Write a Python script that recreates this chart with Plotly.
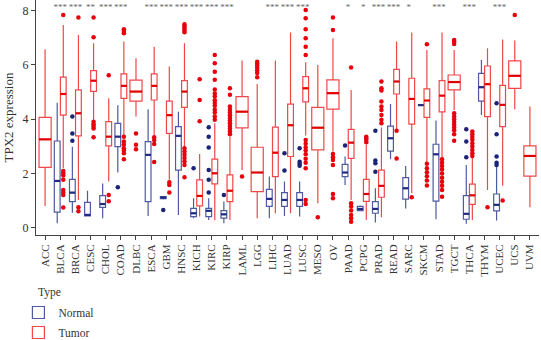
import plotly.graph_objects as go

cancers = ["ACC","BLCA","BRCA","CESC","CHOL","COAD","DLBC","ESCA","GBM","HNSC","KICH","KIRC","KIRP",
           "LAML","LGG","LIHC","LUAD","LUSC","MESO","OV","PAAD","PCPG","PRAD","READ","SARC","SKCM",
           "STAD","TGCT","THCA","THYM","UCEC","UCS","UVM"]

stars = ["","***","***","**","***","***","","***","***","***","***","***","***",
         "","","***","***","***","","","*","*","***","***","*","",
         "***","","***","","***","",""]

# Tumor: lower whisker, Q1, median, Q3, upper whisker
tumor_lo  = [0.81,2.20,1.03,3.98,1.71,3.42,4.10,3.42,1.77,2.99,0.42,0.29,0.29,2.13,0.36,0.54,0.54,3.40,0.91,2.81,1.03,0.29,0.39,3.61,1.28,2.38,2.56,4.34,0.29,1.40,1.55,4.37,0.76]
tumor_q1  = [2.23,4.15,3.39,5.03,3.02,4.77,4.67,4.71,3.48,4.44,0.81,1.62,0.97,3.68,1.34,1.89,2.63,4.64,2.87,4.37,2.56,0.98,1.13,4.93,3.82,4.07,4.27,5.08,0.87,4.10,3.73,5.14,1.91]
tumor_med = [3.26,4.93,4.22,5.42,3.36,5.23,5.02,5.23,4.15,5.02,1.18,2.01,1.37,4.28,2.04,2.77,3.78,5.14,3.69,4.96,3.14,1.25,1.55,5.39,4.75,4.69,4.87,5.37,1.20,5.29,4.53,5.60,2.65]
tumor_q3  = [4.07,5.55,5.08,5.79,3.91,5.67,5.44,5.67,4.67,5.42,1.77,2.53,1.95,4.83,2.97,3.71,4.56,5.57,4.44,5.45,3.63,1.79,2.13,5.84,5.51,5.12,5.42,5.63,1.61,5.96,5.25,6.15,3.02]
tumor_hi  = [6.58,7.47,7.10,6.80,4.77,6.86,6.25,6.67,5.94,6.80,2.72,3.85,3.36,6.16,5.30,6.16,7.19,6.10,6.00,6.98,5.08,3.06,3.70,6.86,7.19,6.55,7.19,6.55,3.48,6.61,6.94,6.90,4.47]

# Normal (None = no normal samples)
N = None
normal_lo  = [N,0.17,0.56,0.42,0.36,2.04,N,0.44,1.05,0.48,0.36,0.29,0.17,N,N,0.36,0.44,0.42,N,N,1.58,0.62,0.20,2.53,0.72,4.52,0.32,N,0.15,4.16,0.27,N,N]
normal_q1  = [N,0.58,0.97,0.44,0.76,2.99,N,0.97,1.08,2.13,0.42,0.42,0.36,N,N,0.79,0.79,0.79,N,N,1.89,0.64,0.54,2.83,1.06,4.52,0.99,N,0.32,4.67,0.63,N,N]
normal_med = [N,1.73,1.30,0.48,0.88,3.36,N,2.69,1.12,3.39,0.54,0.63,0.50,N,N,1.07,1.03,1.03,N,N,2.04,0.70,0.70,3.30,1.46,4.52,2.71,N,0.52,5.18,0.85,N,N]
normal_q3  = [N,3.20,1.79,0.94,1.19,3.85,N,3.18,1.15,3.73,0.72,0.72,0.64,N,N,1.42,1.30,1.30,N,N,2.34,0.79,0.97,3.75,1.85,4.52,3.08,N,1.19,5.69,1.25,N,N]
normal_hi  = [N,4.61,2.99,1.37,1.64,4.52,N,4.37,1.17,4.28,1.09,1.09,0.97,N,N,1.89,1.71,1.71,N,N,2.63,0.83,1.46,4.56,2.28,4.52,3.95,N,2.32,6.18,2.26,N,N]

normal_outliers = {
    "BRCA": [4.10,3.48,3.21], "COAD": [1.50], "GBM": [0.66], "KICH": [2.20],
    "KIRC": [3.71,3.36,2.96,2.13,1.77,1.30], "KIRP": [1.21], "LUAD": [2.75,2.11],
    "LUSC": [2.93,2.44,2.36,2.29], "PAAD": [3.03], "PRAD": [3.58,2.48,2.38,2.07],
    "THCA": [3.63,3.18,2.60], "UCEC": [4.59,3.45,2.63,2.40,2.32],
}
tumor_outliers = {
    "BLCA": [7.84,2.10,2.01,1.93,1.77,1.40,1.30,1.21,0.75],
    "BRCA": [7.75,0.76,0.61],
    "CESC": [7.75,7.02,3.91,3.82,3.73,3.66,3.34],
    "CHOL": [5.62,1.21,0.98],
    "COAD": [7.31,7.25,7.17,3.36,3.18,3.06,2.93,2.85,2.75,2.53],
    "DLBC": [3.48,3.06,2.90],
    "ESCA": [3.34,3.24,3.09,2.43],
    "GBM": [1.68,1.58,1.30],
    "HNSC": [7.50,7.42,7.35,7.27,7.20,2.93,2.81,2.69,2.57,2.45,2.32,1.87],
    "KICH": [5.47,4.71,3.93],
    "KIRC": [6.37,6.06,5.75,5.45,5.10,4.95,4.85,4.70,4.60,4.50,4.35,4.25,4.10,3.98],
    "KIRP": [5.14,4.90,4.47,4.35,4.25,4.15,4.05,3.95,3.85,3.75,3.65,3.55,3.45],
    "LAML": [1.89],
    "LGG": [6.12,6.05,5.98,5.90,5.80,5.70,5.55],
    "LUSC": [8.02,7.72,7.31,6.98,6.67,6.37,3.24,3.10,2.96,2.85,2.71,2.55,2.40,2.20,1.03,0.88],
    "MESO": [0.39],
    "OV": [7.75,7.29,2.72,2.60,2.50,2.32,1.25,1.09],
    "PAAD": [5.91,0.91,0.79,0.64,0.48,0.36,0.23],
    "PCPG": [3.36,3.30,3.24,3.15],
    "PRAD": [5.39,5.14,5.06,4.65,4.47,4.34,4.16,3.98,3.85],
    "READ": [3.58,2.56],
    "SARC": [1.13],
    "SKCM": [6.76,2.36,2.20,2.05,1.90,1.75,1.56],
    "STAD": [2.53,2.40,2.28,2.15,2.00,1.85,1.70,1.55,1.40,1.15],
    "TGCT": [6.92,6.85,6.77,4.22,4.10,4.00,3.90,3.80,3.70,3.60,3.45,3.21],
    "THCA": [3.55,3.45,3.35,3.25,3.12,3.00,2.87,2.75,2.65],
    "THYM": [0.76],
    "UCEC": [1.01],
    "UCS": [7.84],
}

SERIF = "Liberation Serif"
N_LINE, N_MED, N_PT = "#4f5aa0", "#1f2a80", "#1c2575"
T_LINE, T_MED, T_PT = "#f04848", "#e00000", "#e8000b"
DODGE = 0.2
PAIR_W, SINGLE_W = 0.38, 0.8
PX_PER_UNIT = 15.15

fig = go.Figure()

def pos(i, kind):
    has_n = normal_med[i] is not None
    if kind == "N":
        return i - DODGE
    return i + DODGE if has_n else i

idx_n = [i for i in range(len(cancers)) if normal_med[i] is not None]
idx_tp = [i for i in range(len(cancers)) if normal_med[i] is not None]
idx_ts = [i for i in range(len(cancers)) if normal_med[i] is None]

def add_box(idx, kind, name, width, showlegend):
    if kind == "N":
        lo, q1, md, q3, hi = normal_lo, normal_q1, normal_med, normal_q3, normal_hi
        lc = N_LINE
    else:
        lo, q1, md, q3, hi = tumor_lo, tumor_q1, tumor_med, tumor_q3, tumor_hi
        lc = T_LINE
    fig.add_trace(go.Box(
        x=[pos(i, kind) for i in idx],
        q1=[q1[i] for i in idx], median=[md[i] for i in idx], q3=[q3[i] for i in idx],
        lowerfence=[lo[i] for i in idx], upperfence=[hi[i] for i in idx],
        name=name, legendgroup=name, showlegend=showlegend, width=width,
        line=dict(color=lc, width=1.2), fillcolor="white", whiskerwidth=0,
        boxpoints=False, hoverinfo="skip"))

add_box(idx_n, "N", "Normal", PAIR_W, True)
add_box(idx_tp, "T", "Tumor", PAIR_W, True)
add_box(idx_ts, "T", "Tumor", SINGLE_W, False)

# thicker median lines (line-ew marker length = 1.4 * size)
for idx, kind, w, col in [(idx_n, "N", PAIR_W, N_MED), (idx_tp, "T", PAIR_W, T_MED), (idx_ts, "T", SINGLE_W, T_MED)]:
    md = normal_med if kind == "N" else tumor_med
    fig.add_trace(go.Scatter(
        x=[pos(i, kind) for i in idx], y=[md[i] for i in idx], mode="markers",
        marker=dict(symbol="line-ew", size=w * PX_PER_UNIT / 1.4, line=dict(color=col, width=2.2)),
        showlegend=False, hoverinfo="skip"))

# outliers
for outl, kind, col in [(normal_outliers, "N", N_PT), (tumor_outliers, "T", T_PT)]:
    xs, ys = [], []
    for c, vals in outl.items():
        i = cancers.index(c)
        for v in vals:
            xs.append(pos(i, kind)); ys.append(v)
    fig.add_trace(go.Scatter(x=xs, y=ys, mode="markers",
                             marker=dict(color=col, size=4.5, line=dict(width=0)),
                             showlegend=False, hoverinfo="skip"))

# significance
fig.add_trace(go.Scatter(x=list(range(len(cancers))), y=[8.12] * len(cancers), text=stars,
                         mode="text", textfont=dict(family=SERIF, size=9, color="#666666"),
                         showlegend=False, hoverinfo="skip"))

fig.update_layout(
    width=541, height=340, margin=dict(l=36, r=2, t=0, b=105, autoexpand=False),
    paper_bgcolor="white", plot_bgcolor="white", boxmode="overlay",
    font=dict(family=SERIF, color="#333333"),
    legend=dict(font=dict(family=SERIF, size=11.5, color="#333"),
                orientation="v", x=-0.035, xanchor="left", y=-0.268, yanchor="top",
                tracegroupgap=1, itemwidth=30, bgcolor="rgba(0,0,0,0)"),
    annotations=[dict(text="Type", xref="paper", yref="paper", x=0, y=-0.243, xanchor="left",
                      yanchor="middle", showarrow=False, font=dict(family=SERIF, size=11.5, color="#333"))],
    xaxis=dict(range=[-0.6, 32.6], tickmode="array", tickvals=list(range(len(cancers))), ticktext=cancers,
               tickangle=-90, ticks="outside", ticklen=4, tickcolor="#444", showline=True, linecolor="#444",
               linewidth=1, showgrid=False, zeroline=False, tickfont=dict(family=SERIF, size=11, color="#333")),
    yaxis=dict(range=[-0.26, 8.39], tickvals=[0, 2, 4, 6, 8], ticks="outside", ticklen=4, tickcolor="#444",
               showline=True, linecolor="#444", linewidth=1, showgrid=False, zeroline=False,
               tickfont=dict(family=SERIF, size=12, color="#333"),
               title=dict(text="TPX2 expression", font=dict(family=SERIF, size=13, color="#333"), standoff=6)),
)

fig.write_html("out.html")
